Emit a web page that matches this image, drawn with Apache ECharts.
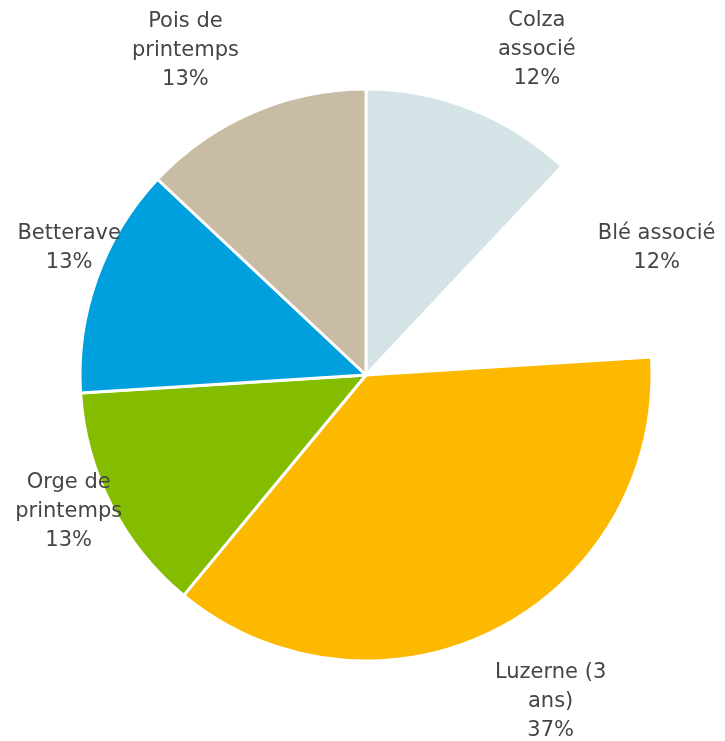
<!DOCTYPE html>
<html>
<head>
<meta charset="utf-8">
<script src="https://cdn.jsdelivr.net/npm/echarts@6/dist/echarts.min.js"></script>
<style>
  html, body { margin: 0; padding: 0; background: #ffffff; }
  #chart { width: 725px; height: 741px; }
</style>
</head>
<body>
<div id="chart"></div>
<script>
// Crop rotation shares (%)
const cultures = ['Colza\nassocié', 'Blé associé', 'Luzerne (3\nans)', 'Orge de\nprintemps', 'Betterave', 'Pois de\nprintemps'];
const parts = [12, 12, 37, 13, 13, 13];

// Slice fills (the wheat slice is left blank, white on white)
const colors = ['#D3E3E6', '#FFFFFF', '#FDB900', '#84BD00', '#00A0DF', '#C9BCA4'];

// Label offsets from the rim: radial distance and horizontal run
const labelRadial = [64, 12, 81, 14, 89, 68];
const labelRun = [42, 21, 18, 30, -56, 40];

const data = cultures.map((name, i) => ({
  name: name,
  value: parts[i],
  itemStyle: { color: colors[i] },
  labelLine: { show: false, length: labelRadial[i], length2: labelRun[i] }
}));

const chart = echarts.init(document.getElementById('chart'), null, { renderer: 'canvas' });
chart.setOption({
  animation: false,
  backgroundColor: '#ffffff',
  series: [{
    type: 'pie',
    center: [366, 375],
    radius: 286,
    startAngle: 90,
    clockwise: true,
    avoidLabelOverlap: false,
    emphasis: { disabled: true },
    silent: true,
    itemStyle: { borderColor: '#ffffff', borderWidth: 3 },
    label: {
      show: true,
      position: 'outside',
      distanceToLabelLine: 0,
      formatter: '{b}\n{c}%',
      color: '#454545',
      fontFamily: 'DejaVu Sans',
      fontSize: 21,
      lineHeight: 29
    },
    labelLayout: { align: 'center' },
    data: data
  }]
});
</script>
</body>
</html>
